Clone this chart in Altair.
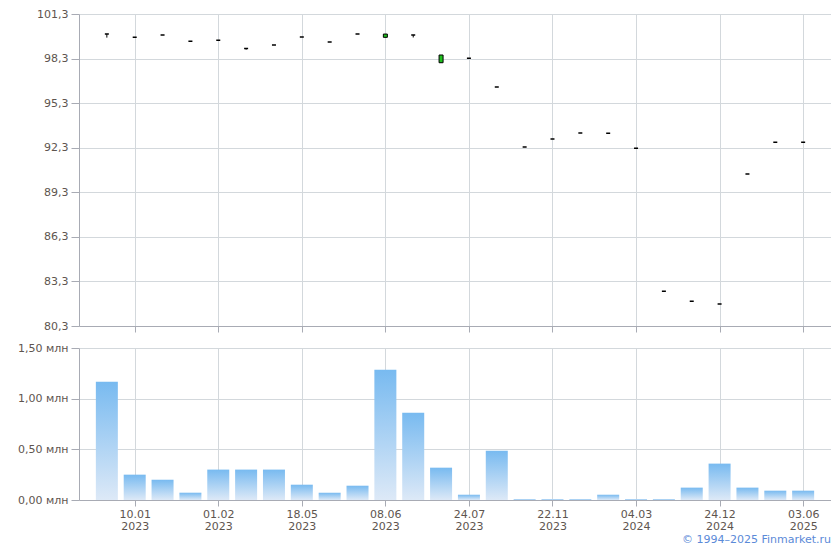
import altair as alt
import pandas as pd

# ---- data ----
idx = list(range(26))
open_ = [99.95, 99.73, 99.89, 99.46, 99.53, 98.97, 99.21, 99.75, 99.41, 99.95,
         99.73, 99.89, 98.02, 98.32, 96.39, 92.35, 92.89, 93.29, 93.27, 92.26,
         82.64, 81.96, 81.78, 90.53, 92.66, 92.66]
close = [99.95, 99.73, 99.89, 99.46, 99.53, 98.97, 99.21, 99.75, 99.41, 99.95,
         99.95, 99.89, 98.54, 98.32, 96.39, 92.35, 92.89, 93.29, 93.27, 92.26,
         82.64, 81.96, 81.78, 90.53, 92.66, 92.66]
high = [99.95, 99.73, 99.89, 99.46, 99.53, 98.97, 99.21, 99.75, 99.41, 99.95,
        99.95, 99.89, 98.54, 98.32, 96.39, 92.35, 92.89, 93.29, 93.27, 92.26,
        82.64, 81.96, 81.78, 90.53, 92.66, 92.66]
low = [99.71, 99.73, 99.89, 99.46, 99.53, 98.90, 99.21, 99.75, 99.41, 99.95,
       99.73, 99.72, 98.02, 98.32, 96.39, 92.35, 92.89, 93.29, 93.27, 92.26,
       82.64, 81.96, 81.78, 90.53, 92.66, 92.66]
volume_mln = [1.167, 0.25, 0.20, 0.072, 0.30, 0.30, 0.30, 0.151, 0.072, 0.141,
              1.286, 0.862, 0.319, 0.052, 0.487, 0.01, 0.01, 0.01, 0.052, 0.01,
              0.01, 0.122, 0.359, 0.122, 0.092, 0.092]

tick_idx = [1, 4, 7, 10, 13, 16, 19, 22, 25]
tick_day = ["10.01", "01.02", "18.05", "08.06", "24.07", "22.11", "04.03", "24.12", "03.06"]
tick_year = ["2023", "2023", "2023", "2023", "2023", "2023", "2024", "2024", "2025"]

price_ticks = [80.3, 83.3, 86.3, 89.3, 92.3, 95.3, 98.3, 101.3]
vol_ticks = [0.0, 0.5, 1.0, 1.5]
copyright_text = "© 1994–2025 Finmarket.ru"

df = pd.DataFrame({"i": idx, "open": open_, "close": close, "high": high,
                   "low": low, "vol": volume_mln})
df["up"] = df["close"] > df["open"]

FONT = "DejaVu Sans"
LABEL = "#5e554f"
GRID = "#d3d8dc"
DOMAIN = "#a8abb4"
W = 752

label_arr = "[" + ",".join(f'["{d}","{y}"]' for d, y in zip(tick_day, tick_year)) + "]"
x_label_expr = f"{label_arr}[round((datum.value-1)/3)]"

xscale = alt.Scale(domain=[-1, 26], nice=False, zero=False, padding=0)

def x_axis(labels):
    return alt.Axis(values=tick_idx, grid=True, gridColor=GRID, domainColor=DOMAIN,
                    tickColor=DOMAIN, tickSize=6, labels=labels, title=None,
                    labelExpr=x_label_expr, labelFont=FONT, labelFontSize=11,
                    labelColor=LABEL, labelPadding=2, labelLineHeight=12)

price_axis = alt.Axis(values=price_ticks, grid=True, gridColor=GRID, domainColor=DOMAIN,
                      tickColor=DOMAIN, tickSize=8, title=None, labelFont=FONT,
                      labelFontSize=11, labelColor=LABEL, labelPadding=3,
                      labelExpr="replace(format(datum.value, '.1f'), '.', ',')",
                      minExtent=66, maxExtent=66)
vol_axis = alt.Axis(values=vol_ticks, grid=True, gridColor=GRID, domainColor=DOMAIN,
                    tickColor=DOMAIN, tickSize=8, title=None, labelFont=FONT,
                    labelFontSize=11, labelColor=LABEL, labelPadding=3,
                    labelExpr="replace(format(datum.value, '.2f'), '.', ',') + ' млн'",
                    minExtent=66, maxExtent=66)

pscale = alt.Scale(domain=[80.3, 101.3], nice=False, zero=False)

base = alt.Chart(df)
wick = base.mark_rule(color="#000000", strokeWidth=1).encode(
    x=alt.X("i:Q", scale=xscale, axis=x_axis(False)),
    y=alt.Y("low:Q", scale=pscale, axis=price_axis),
    y2="high:Q",
)
body = base.mark_bar(size=4, stroke="#000000").encode(
    x=alt.X("i:Q", scale=xscale),
    y=alt.Y("open:Q", scale=pscale),
    y2="close:Q",
    fill=alt.condition("datum.up", alt.value("#1fc01f"), alt.value("#000000")),
    strokeWidth=alt.condition("datum.up", alt.value(1), alt.value(1.5)),
)
top = alt.layer(wick, body).properties(width=W, height=312)

grad = alt.Gradient(gradient="linear",
                    stops=[alt.GradientStop(color="#78baf0", offset=0),
                           alt.GradientStop(color="#dde9f7", offset=1)],
                    x1=0, x2=0, y1=0, y2=1)
bars = base.mark_bar(size=22, color=grad).encode(
    x=alt.X("i:Q", scale=xscale, axis=x_axis(True)),
    y=alt.Y("vol:Q", scale=alt.Scale(domain=[0, 1.5], nice=False), axis=vol_axis),
)
copy = alt.Chart(pd.DataFrame({"t": [copyright_text]})).mark_text(
    align="right", baseline="middle", font=FONT, fontSize=11, color="#5b8ad8"
).encode(text="t:N", x=alt.value(W), y=alt.value(192))
bottom = alt.layer(bars, copy).properties(width=W, height=152)

chart = alt.vconcat(top, bottom, spacing=9).configure_view(stroke=None).properties(
    padding={"left": 5, "top": 0, "right": 0, "bottom": 0}, background="white")

chart.save("out.html", embed_options={"renderer": "svg", "actions": False})
